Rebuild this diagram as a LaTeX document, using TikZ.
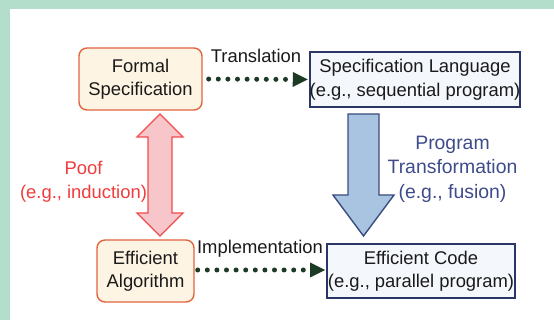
\documentclass[tikz,border=0pt]{standalone}
\usepackage{fontspec}
\setmainfont{Liberation Sans}
\usetikzlibrary{arrows.meta}
\definecolor{mint}{HTML}{B3DECB}
\definecolor{cream}{HTML}{FDF4E3}
\definecolor{boxorange}{HTML}{E2653F}
\definecolor{navy}{HTML}{2B3566}
\definecolor{paleblue}{HTML}{F4F7FB}
\definecolor{dgreen}{HTML}{1C3A24}
\definecolor{pinkfill}{HTML}{F7C6CA}
\definecolor{redline}{HTML}{F24B4B}
\definecolor{redtext}{HTML}{F03C3C}
\definecolor{progtext}{HTML}{3E4C8A}
\definecolor{steel}{HTML}{A8C4E0}
\definecolor{steelline}{HTML}{3B4C80}
\definecolor{ink}{HTML}{1A1A1A}
\tikzset{
  orangebox/.style={draw=boxorange, fill=cream, rounded corners=8pt, line width=1.4pt, align=center, inner sep=0pt, text=ink},
  bluebox/.style={draw=navy, fill=paleblue, line width=1.8pt, align=center, inner sep=0pt, text=ink},
  dotarrow/.style={draw=dgreen, line width=5pt, line cap=round, dash pattern=on 0pt off 9.6pt, -{Triangle[length=15pt,width=15pt,line width=0pt]}},
  lbl/.style={text=ink, inner sep=0pt, anchor=base}
}
\begin{document}
\begin{tikzpicture}[x=1pt,y=-1pt,font=\fontsize{18.4}{23.5}\selectfont]
\useasboundingbox (0,0) rectangle (554,320);
\fill[mint] (0,0) rectangle (554,320);
\fill[white] (10,9) rectangle (554,320);

\node[orangebox, minimum width=123pt, minimum height=62pt] (FS) at (140.5,79) {Formal\\Specification};
\node[bluebox, minimum width=210pt, minimum height=55pt] (SL) at (415,79.5) {Specification Language\\(e.g., sequential program)};
\node[orangebox, minimum width=97pt, minimum height=62pt] (EA) at (145.5,271) {Efficient\\Algorithm};
\node[bluebox, minimum width=188pt, minimum height=54pt] (EC) at (421,271) {Efficient Code\\(e.g., parallel program)};

\node[lbl] (TL) at (256,63) {Translation};
\node[lbl] (IL) at (260,254) {Implementation};

\draw[dotarrow, shorten <=6pt, shorten >=1pt] (FS.east) -- (SL.west);
\draw[dotarrow, shorten <=3pt, shorten >=1pt] (EA.east |- 0,270) -- (EC.west |- 0,270);

% proof double arrow
\draw[draw=redline, fill=pinkfill, line width=1.3pt, line join=miter]
  (160,114) -- (183,137) -- (172,137) -- (172,213) -- (183,213) -- (160,236)
  -- (137,213) -- (148,213) -- (148,137) -- (137,137) -- cycle;
\node[text=redtext, align=center, inner sep=0pt, anchor=base] (PF) at (83.5,198.5) {Poof\\(e.g., induction)};

% transformation arrow
\draw[draw=steelline, fill=steel, line width=1.4pt, line join=miter]
  (348,114) -- (379,114) -- (379,195) -- (394,195) -- (363.5,236) -- (333,195) -- (348,195) -- cycle;
\node[text=progtext, align=center, inner sep=0pt, anchor=base, font=\fontsize{19.4}{24.5}\selectfont] (PT) at (452.5,198.5) {Program\\Transformation\\(e.g., fusion)};
\end{tikzpicture}
\end{document}
